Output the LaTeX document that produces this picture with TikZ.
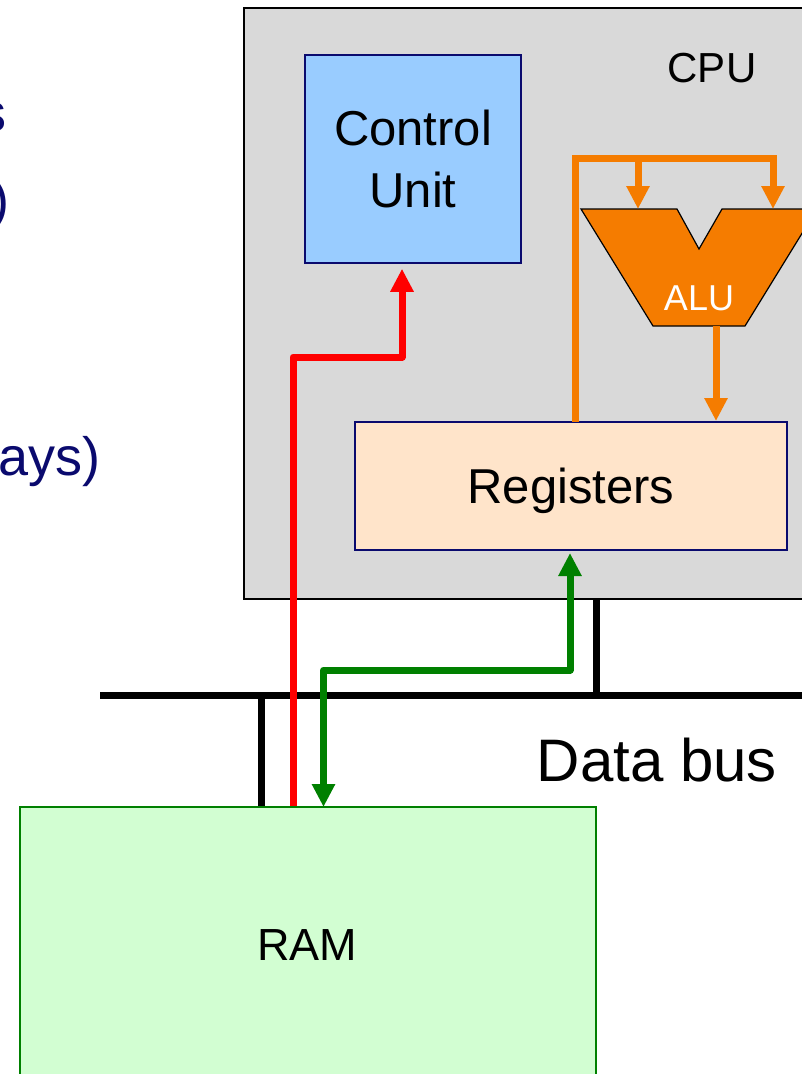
\documentclass[tikz,border=0pt]{standalone}
\usepackage{fontspec}
\setmainfont{Liberation Sans}
\usetikzlibrary{arrows.meta}
\definecolor{cpugray}{HTML}{D9D9D9}
\definecolor{cublue}{HTML}{99CCFF}
\definecolor{regpeach}{HTML}{FFE4CA}
\definecolor{ramgreen}{HTML}{D2FED2}
\definecolor{navy}{HTML}{0A0A6E}
\definecolor{aluorange}{HTML}{F57C00}
\definecolor{busgreen}{HTML}{008000}

\begin{document}
\begin{tikzpicture}[x=1pt,y=-1pt,
  unit/.style={rectangle,draw=navy,line width=1.5pt,inner sep=0pt,align=center},
  cpubox/.style={rectangle,draw=black,line width=1.5pt,fill=cpugray,inner sep=0pt},
  rambox/.style={rectangle,draw=busgreen,line width=1.5pt,fill=ramgreen,inner sep=0pt},
  lbl/.style={inner sep=0pt,font=\fontsize{#1}{#1}\selectfont},
  lefttxt/.style={inner sep=0pt,text=navy,font=\fontsize{54}{54}\selectfont},
  wire/.style={line width=7pt,line join=round},
  bus/.style={line width=7pt,black},
  >={Triangle[length=23pt,width=22pt]}]
  \useasboundingbox (0,0) rectangle (802,1074);
  \clip (0,0) rectangle (802,1074);
  % cut-off text on the left
  \node[lefttxt,anchor=base east] (txts) at (7,131) {s};
  \node[lefttxt,anchor=base east] (txtp) at (10,218) {)};
  \node[lefttxt,anchor=base east] (txtw) at (101,475) {ays)};
  % CPU
  \node[cpubox,minimum width=607pt,minimum height=591pt,anchor=north west] (cpu) at (243,7) {};
  \node[lbl=42] (cpulbl) at (712,68) {CPU};
  \node[unit,fill=cublue,minimum width=216pt,minimum height=208pt,
        font=\fontsize{49}{62}\selectfont] (cu) at (413,159) {Control\\Unit};
  \node[unit,fill=regpeach,line width=2pt,minimum width=432pt,minimum height=128pt,
        text depth=0pt,font=\fontsize{49}{49}\selectfont] (reg) at (571,486) {Registers};
  % ALU
  \draw[fill=aluorange,line width=1.2pt] (581,209) -- (677,209) -- (699,249) -- (722,209)
    -- (817,209) -- (745,326) -- (653,326) -- cycle;
  \node[lbl=36,text=white] (alu) at (699,298) {ALU};
  \coordinate (aluinA) at (638,209);
  \coordinate (aluinB) at (773,209);
  \coordinate (aluout) at (716,326);
  \coordinate (regout) at (575,422);
  % orange paths
  \draw[wire,aluorange,line join=miter,->] (regout) -- (575,158) -| (aluinB);
  \draw[wire,aluorange,->] (aluinA |- 0,158) -- (aluinA);
  \draw[wire,aluorange,->] (aluout) -- (aluout |- reg.north);
  % RAM
  \node[rambox,minimum width=576pt,minimum height=278pt,anchor=north west] (ram) at (19,806) {};
  \node[lbl=45] (ramlbl) at (307,945) {RAM};
  % data bus
  \coordinate (busL) at (100,695);
  \coordinate (busR) at (820,695);
  \draw[bus] (busL) -- (busR);
  \draw[bus] (596,598) -- (596,695);
  \draw[bus] ([xshift=242.5pt]ram.north west) -- (261.5,695);
  \node[lbl=60] (buslbl) at (657,760) {Data bus};
  % red and green arrows
  \draw[wire,red,->] ([xshift=274pt]ram.north west) -- (293,357) -| ([xshift=-11pt,yshift=-5pt]cu.south);
  \draw[wire,busgreen,<->] ([xshift=304.5pt,yshift=-1pt]ram.north west) -- (323.5,670) -| ([xshift=-1pt,yshift=-2pt]reg.south);
\end{tikzpicture}
\end{document}
